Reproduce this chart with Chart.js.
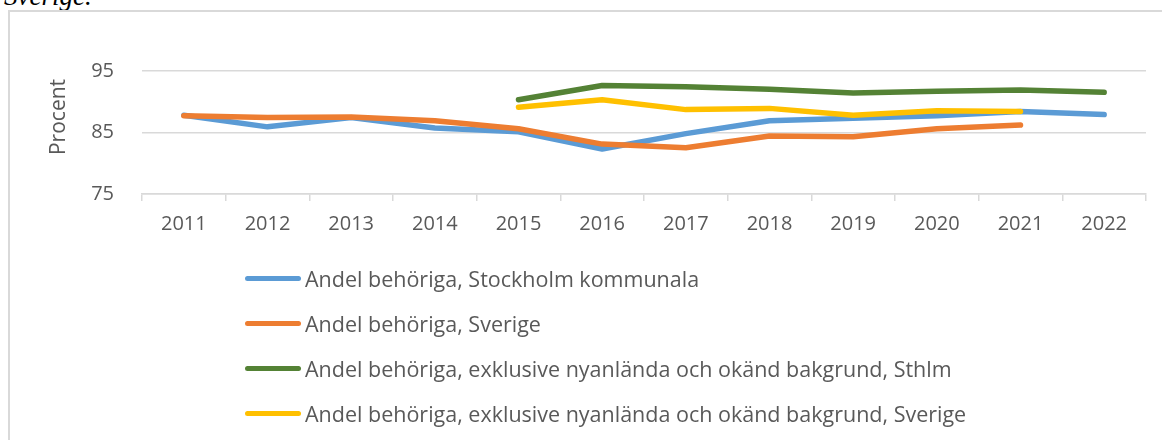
<!DOCTYPE html>
<html>
<head>
<meta charset="utf-8">
<script src="https://cdn.jsdelivr.net/npm/chart.js@4.4.1/dist/chart.umd.min.js"></script>
<style>
  html, body { margin: 0; padding: 0; background: #fff; overflow: hidden; }
  #page { position: relative; width: 1162px; height: 440px; overflow: hidden; }
  #caption {
    position: absolute; left: 4px; top: -17px; line-height: 27px;
    font-family: "Liberation Serif", "Times New Roman", serif; font-style: italic; font-size: 27px; color: #000;
  }
  #frame { position: absolute; left: 8px; top: 10px; width: 1160px; height: 460px; border: 2px solid #d9d9d9; box-sizing: border-box; }
  #chart { position: absolute; left: 0; top: 0; }
  #legend { position: absolute; left: 245px; top: 256px; margin: 0; padding: 0; list-style: none; }
  #legend li { display: flex; align-items: center; height: 45px; }
  #legend .swatch { display: inline-block; width: 56px; height: 5.5px; border-radius: 3px; }
  #legend .label { margin-left: 4px; font-family: "Open Sans", sans-serif; font-size: 21.5px; color: #595959; white-space: nowrap; }
</style>
</head>
<body>
<div id="page">
  <div id="caption">Sverige.</div>
  <div id="frame"></div>
  <canvas id="chart" width="1162" height="440"></canvas>
  <ul id="legend"></ul>
</div>
<script>
// Data
const years = ['2011', '2012', '2013', '2014', '2015', '2016', '2017', '2018', '2019', '2020', '2021', '2022'];
const sthlmKommunala = [87.8, 85.9, 87.4, 85.7, 85.1, 82.3, 84.8, 86.9, 87.3, 87.7, 88.4, 87.9];
const sverige = [87.7, 87.4, 87.5, 86.9, 85.6, 83.1, 82.5, 84.4, 84.3, 85.6, 86.2, null];
const sthlmExkl = [null, null, null, null, 90.3, 92.6, 92.4, 92.0, 91.4, 91.7, 91.9, 91.5];
const sverigeExkl = [null, null, null, null, 89.1, 90.3, 88.7, 88.9, 87.8, 88.5, 88.4, null];
const yTicks = [75, 85, 95];

const textColor = '#595959';
const gridColor = '#d9d9d9';
const padLeft = 40;
const padBottom = 196;

function series(label, data, color, order) {
  return {
    label: label,
    data: data,
    borderColor: color,
    backgroundColor: color,
    borderWidth: 5.5,
    borderCapStyle: 'round',
    borderJoinStyle: 'round',
    pointRadius: 0,
    pointHoverRadius: 0,
    tension: 0,
    spanGaps: false,
    order: order
  };
}

// legend as an html list, one row per dataset
const htmlLegend = {
  id: 'htmlLegend',
  afterUpdate(chart) {
    const ul = document.getElementById('legend');
    ul.innerHTML = '';
    const items = chart.options.plugins.legend.labels.generateLabels(chart)
      .sort((a, b) => a.datasetIndex - b.datasetIndex);
    items.forEach(item => {
      const li = document.createElement('li');
      const sw = document.createElement('span');
      sw.className = 'swatch';
      sw.style.background = item.strokeStyle;
      const tx = document.createElement('span');
      tx.className = 'label';
      tx.textContent = item.text;
      li.appendChild(sw);
      li.appendChild(tx);
      ul.appendChild(li);
    });
  }
};

const chart = new Chart(document.getElementById('chart'), {
  type: 'line',
  data: {
    labels: years,
    datasets: [
      series('Andel behöriga, Stockholm kommunala', sthlmKommunala, '#5b9bd5', 4),
      series('Andel behöriga, Sverige', sverige, '#ed7d31', 3),
      series('Andel behöriga, exklusive nyanlända och okänd bakgrund, Sthlm', sthlmExkl, '#548235', 2),
      series('Andel behöriga, exklusive nyanlända och okänd bakgrund, Sverige', sverigeExkl, '#ffc000', 1)
    ]
  },
  options: {
    responsive: false,
    animation: false,
    layout: { padding: { left: padLeft, top: 39, right: 16, bottom: padBottom } },
    plugins: {
      legend: { display: false },
      tooltip: { enabled: false }
    },
    scales: {
      x: {
        offset: true,
        grid: { offset: true, drawOnChartArea: false, drawTicks: true, tickLength: 7, color: gridColor, lineWidth: 1.5 },
        border: { color: gridColor, width: 1.5 },
        ticks: { color: textColor, font: { family: 'Open Sans', size: 20 }, padding: 11, maxRotation: 0 },
        afterFit(s) { s.height = 50; }
      },
      y: {
        min: 75,
        max: 100,
        afterBuildTicks(s) { s.ticks = yTicks.map(v => ({ value: v })); },
        afterFit(s) { s.width = 142 - padLeft; },
        grid: { color: gridColor, lineWidth: 1.5, drawTicks: false },
        border: { display: false },
        ticks: { color: textColor, font: { family: 'Open Sans', size: 20 }, padding: 28 },
        title: {
          display: true,
          text: 'Procent',
          color: textColor,
          font: { family: 'Open Sans', size: 21 },
          padding: { top: 6, bottom: 4 }
        }
      }
    }
  },
  plugins: [htmlLegend]
});
</script>
</body>
</html>
